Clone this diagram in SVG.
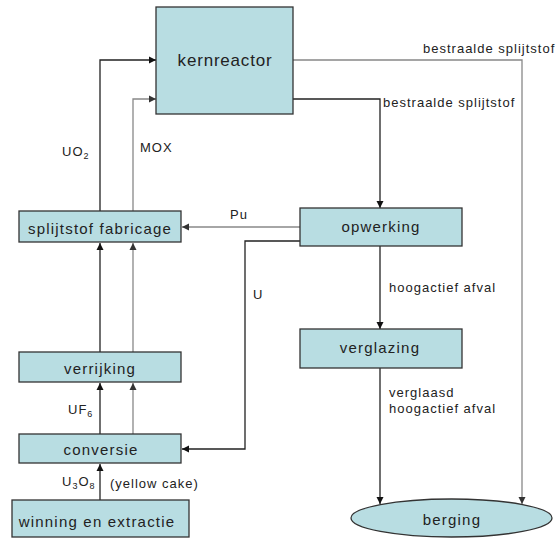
<svg xmlns="http://www.w3.org/2000/svg" width="560" height="538" viewBox="0 0 560 538">
<defs>
<marker id="ad" markerWidth="8" markerHeight="8" refX="7" refY="4" orient="auto" markerUnits="userSpaceOnUse"><path d="M0,0.5 L7,4 L0,7.5 Z" fill="#111"/></marker>
<marker id="ag" markerWidth="8" markerHeight="8" refX="7" refY="4" orient="auto" markerUnits="userSpaceOnUse"><path d="M0,0.5 L7,4 L0,7.5 Z" fill="#333"/></marker>
</defs>
<style>
.box{fill:#b8dde2;stroke:#333;stroke-width:1.3}
.t{font-family:"Liberation Sans",Arial,sans-serif;fill:#222}
.bt{font-size:15px;letter-spacing:1.2px;text-anchor:middle}
.lb{font-size:13px;letter-spacing:1px}
.d{fill:none;stroke:#222;stroke-width:1.3;marker-end:url(#ad)}
.g{fill:none;stroke:#888;stroke-width:1.3;marker-end:url(#ag)}
</style>
<rect width="560" height="538" fill="#fff"/>
<g id="connectors">
<polyline class="d" points="100,211 100,60 156,60"/>
<polyline class="g" points="133,211 133,99 156,99"/>
<line class="d" x1="100" y1="352" x2="100" y2="243"/>
<line class="g" x1="133" y1="352" x2="133" y2="243"/>
<line class="d" x1="100" y1="434" x2="100" y2="383"/>
<line class="g" x1="133" y1="434" x2="133" y2="383"/>
<line class="d" x1="100" y1="500" x2="100" y2="464"/>
<polyline class="g" points="293,60 522,60 522,504"/>
<polyline class="d" points="293,99 380,99 380,208"/>
<line class="g" x1="300" y1="227" x2="182" y2="227"/>
<polyline class="d" points="300,241 245,241 245,449 182,449"/>
<line class="d" x1="380" y1="246" x2="380" y2="329"/>
<line class="d" x1="380" y1="368" x2="380" y2="504"/>
</g>
<g id="kernreactor"><rect class="box" x="156" y="7" width="137" height="107"/><text class="t" x="225" y="66" font-size="17" letter-spacing="0.8" text-anchor="middle">kernreactor</text></g>
<g id="fabricage"><rect class="box" x="19" y="211" width="162" height="31"/><text class="t bt" x="100" y="234">splijtstof fabricage</text></g>
<g id="opwerking"><rect class="box" x="300" y="208" width="162" height="38"/><text class="t bt" x="381" y="232">opwerking</text></g>
<g id="verglazing"><rect class="box" x="300" y="329" width="162" height="39"/><text class="t bt" x="380" y="353">verglazing</text></g>
<g id="verrijking"><rect class="box" x="19" y="352" width="162" height="30"/><text class="t bt" x="100" y="374">verrijking</text></g>
<g id="conversie"><rect class="box" x="19" y="434" width="162" height="29"/><text class="t bt" x="101" y="455">conversie</text></g>
<g id="winning"><rect class="box" x="12" y="500" width="177" height="37"/><text class="t bt" x="97" y="527">winning en extractie</text></g>
<g id="berging"><ellipse class="box" cx="451.5" cy="518" rx="100.5" ry="19"/><text class="t bt" x="452" y="525">berging</text></g>
<g id="labels">
<text class="t lb" x="62" y="156">UO<tspan font-size="9" dy="3">2</tspan></text>
<text class="t lb" x="140" y="152">MOX</text>
<text class="t lb" x="423" y="53">bestraalde splijtstof</text>
<text class="t lb" x="383" y="107">bestraalde splijtstof</text>
<text class="t lb" x="230" y="219">Pu</text>
<text class="t lb" x="253" y="299">U</text>
<text class="t lb" x="389" y="292">hoogactief afval</text>
<text class="t lb" x="389" y="397">verglaasd</text>
<text class="t lb" x="389" y="413">hoogactief afval</text>
<text class="t lb" x="68" y="414">UF<tspan font-size="9" dy="3">6</tspan></text>
<text class="t lb" x="62" y="486">U<tspan font-size="9" dy="3">3</tspan><tspan dy="-3">O</tspan><tspan font-size="9" dy="3">8</tspan></text>
<text class="t lb" x="110" y="488">(yellow cake)</text>
</g>
</svg>
